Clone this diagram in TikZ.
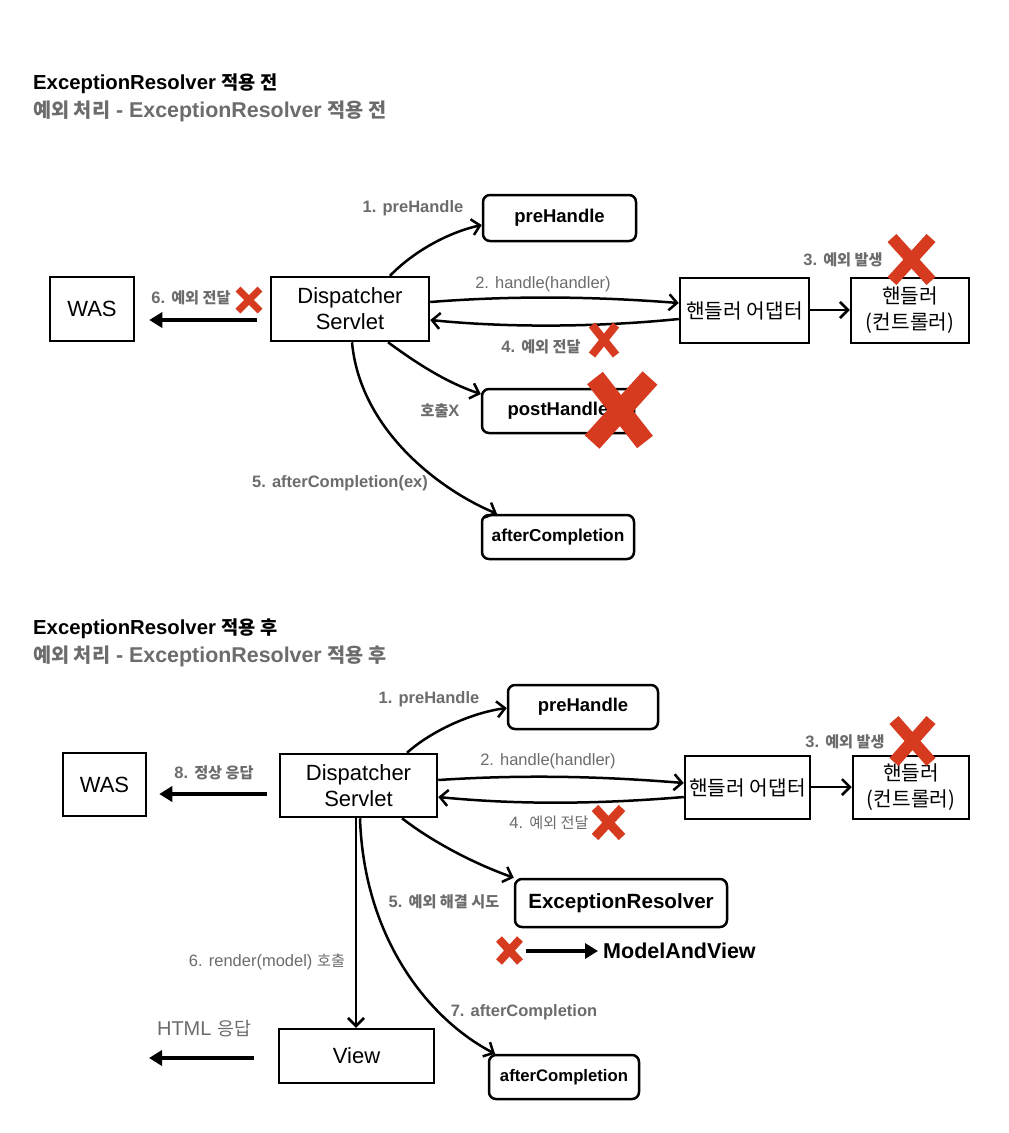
\documentclass[tikz,border=0pt]{standalone}
\usepackage{fontspec}
\setmainfont{Liberation Sans}
\newfontfamily\krfont{Noto Sans CJK KR}[Scale=0.92]
\newcommand\ko[1]{{\krfont #1}}
\usetikzlibrary{arrows.meta}
\definecolor{labelgrey}{RGB}{108,108,108}
\definecolor{crossred}{RGB}{214,59,31}
\tikzset{
  box/.style={draw, line width=2.5pt, inner sep=0pt, align=center,
    font=\fontsize{22}{26}\selectfont},
  rbox/.style={box, rounded corners=7pt, font=\bfseries\fontsize{18.5}{22}\selectfont},
  lbl/.style={text=labelgrey, inner sep=0pt, font=\bfseries\fontsize{16.5}{20}\selectfont},
  lblr/.style={text=labelgrey, inner sep=0pt, font=\fontsize{16.5}{20}\selectfont},
  title/.style={anchor=west, inner sep=0pt, font=\bfseries\fontsize{20.3}{24}\selectfont},
  subtitle/.style={anchor=west, inner sep=0pt, text=labelgrey, font=\bfseries\fontsize{21.4}{25}\selectfont},
  flow/.style={line width=2.5pt, -{Straight Barb[length=8pt,width=16pt,line width=2.5pt]}},
  bigarrow/.style={line width=4.5pt, -{Triangle[length=13pt,width=15pt]}},
  redx/.style={draw=crossred}
}
\begin{document}
\begin{tikzpicture}[x=1pt,y=-1pt]
\useasboundingbox[fill=white] (0,0) rectangle (1009,1133);

% ---------------- before ExceptionResolver ----------------
\node[title] (t1) at (33,84) {ExceptionResolver \ko{적용 전}};
\node[subtitle] (s1) at (33,111) {\ko{예외 처리} - ExceptionResolver \ko{적용 전}};

\node[box, minimum width=84pt, minimum height=64pt] (was1) at (92,309) {WAS};
\node[box, minimum width=158pt, minimum height=64pt] (ds1) at (350,309) {Dispatcher\\Servlet};
\node[rbox, minimum width=153pt, minimum height=46pt] (pre1) at (559.5,218) {preHandle};
\node[box, minimum width=129pt, minimum height=65pt] (ad1) at (744.5,310.5) {\ko{핸들러 어댑터}};
\node[box, minimum width=118pt, minimum height=65pt] (h1) at (910,310.5) {\ko{핸들러}\\\ko{(컨트롤러)}};
\node[rbox, minimum width=152pt, minimum height=44pt] (post1) at (558,411) {postHandle};
\node[rbox, minimum width=152pt, minimum height=44pt, font=\bfseries\fontsize{17.3}{21}\selectfont] (after1) at (558,537) {afterCompletion};

\node[lbl] (l11) at (413,208) {1. preHandle};
\node[lbl] (l16) at (191,298) {6. \ko{예외 전달}};
\node[lblr] (l12) at (543,284) {2. handle(handler)};
\node[lbl] (l14) at (541,347) {4. \ko{예외 전달}};
\node[lbl] (l13) at (843,260) {3. \ko{예외 발생}};
\node[lbl] (l1x) at (440,411) {\ko{호출}X};
\node[lbl] (l15) at (340,483) {5. afterCompletion(ex)};

\coordinate (y1) at (0,320);
\draw[flow] (ds1.north -| 390,0) .. controls (415,250) and (450,232) .. (pre1.west |- 0,225);
\draw[flow] (ds1.east |- 0,302) .. controls (520,295) and (600,297) .. (ad1.west |- 0,303);
\draw[flow] (ad1.west |- 0,319) .. controls (600,327) and (510,328) .. (ds1.east |- 0,320);
\draw[flow] (ad1.east |- 0,310) -- (h1.west |- 0,310);
\draw[flow] (ds1.south -| 388,0) .. controls (415,362) and (445,382) .. (post1.west |- 0,394);
\draw[flow] (ds1.south -| 352,0) .. controls (360,430) and (440,490) .. (after1.north -| 497,0);
\draw[bigarrow, shorten <=13pt, shorten >=14pt] (ds1.west |- y1) -- (was1.east |- y1);

\draw[redx, line width=7pt] (238,289) -- (260,311) (260,289) -- (238,311);
\draw[redx, line width=8pt] (592,325) -- (616,355) (616,325) -- (592,355);
\draw[redx, line width=12pt] (892,238) -- (931,281) (931,238) -- (892,281);
\draw[redx, line width=20pt] (595,378) -- (645,442) (650,378) -- (592,442);

% ---------------- after ExceptionResolver ----------------
\node[title] (t2) at (33,629) {ExceptionResolver \ko{적용 후}};
\node[subtitle] (s2) at (33,656) {\ko{예외 처리} - ExceptionResolver \ko{적용 후}};

\node[box, minimum width=83pt, minimum height=63pt] (was2) at (104.5,784.5) {WAS};
\node[box, minimum width=157pt, minimum height=63pt] (ds2) at (358.5,785.5) {Dispatcher\\Servlet};
\node[rbox, minimum width=150pt, minimum height=44pt] (pre2) at (583,707) {preHandle};
\node[box, minimum width=125pt, minimum height=63pt] (ad2) at (747.5,787.5) {\ko{핸들러 어댑터}};
\node[box, minimum width=116pt, minimum height=63pt] (h2) at (911,787.5) {\ko{핸들러}\\\ko{(컨트롤러)}};
\node[rbox, minimum width=212pt, minimum height=48pt, font=\bfseries\fontsize{20.6}{24}\selectfont] (er2) at (621,903) {ExceptionResolver};
\node[box, minimum width=155pt, minimum height=54pt] (view2) at (356.5,1056) {View};
\node[rbox, minimum width=150pt, minimum height=44pt, font=\bfseries\fontsize{16.7}{20}\selectfont] (after2) at (564,1077) {afterCompletion};
\node[anchor=west, inner sep=0pt, font=\bfseries\fontsize{21.5}{25}\selectfont] (mav) at (603,951) {ModelAndView};

\node[lbl] (l21) at (429,699) {1. preHandle};
\node[lbl] (l28) at (214,773) {8. \ko{정상 응답}};
\node[lblr] (l22) at (548,761) {2. handle(handler)};
\node[lblr] (l24) at (549,823) {4. \ko{예외 전달}};
\node[lbl] (l23) at (845,742) {3. \ko{예외 발생}};
\node[lbl] (l25) at (444,902) {5. \ko{예외 해결 시도}};
\node[lblr] (l26) at (267,962) {6. render(model) \ko{호출}};
\node[lbl] (l27) at (524,1012) {7. afterCompletion};
\node[text=labelgrey, inner sep=0pt, font=\fontsize{20}{24}\selectfont] (html) at (204,1029) {HTML \ko{응답}};

\coordinate (y2) at (0,794);
\coordinate (y3) at (0,1058);
\coordinate (mavtail) at (526,951);
\coordinate (htmlend) at (149,1058);
\draw[flow] (ds2.north -| 407,0) .. controls (430,732) and (470,713) .. (pre2.west |- 0,708);
\draw[flow] (ds2.east |- 0,780) .. controls (530,774) and (610,777) .. (ad2.west |- 0,783);
\draw[flow] (ad2.west |- 0,797) .. controls (600,804) and (520,805) .. (ds2.east |- 0,797);
\draw[flow] (ad2.east |- 0,787) -- (h2.west |- 0,787);
\draw[flow] (ds2.south -| 402,0) .. controls (430,840) and (470,862) .. (er2.north west);
\draw[flow] (ds2.south -| 356,0) -- (view2.north -| 356,0);
\draw[flow] (ds2.south -| 360,0) .. controls (364,940) and (430,1020) .. (after2.north -| 495,0);
\draw[bigarrow, shorten <=12pt, shorten >=12pt] (ds2.west |- y2) -- (was2.east |- y2);
\draw[bigarrow, shorten >=5pt] (mavtail) -- (mav.west);
\draw[bigarrow, shorten <=24pt] (view2.west |- y3) -- (htmlend);

\draw[redx, line width=9pt] (595,808) -- (622,837) (622,808) -- (595,837);
\draw[redx, line width=12pt] (894,720) -- (931,762) (931,720) -- (894,762);
\draw[redx, line width=8pt] (499,939) -- (520,962) (520,939) -- (499,962);
\end{tikzpicture}
\end{document}
